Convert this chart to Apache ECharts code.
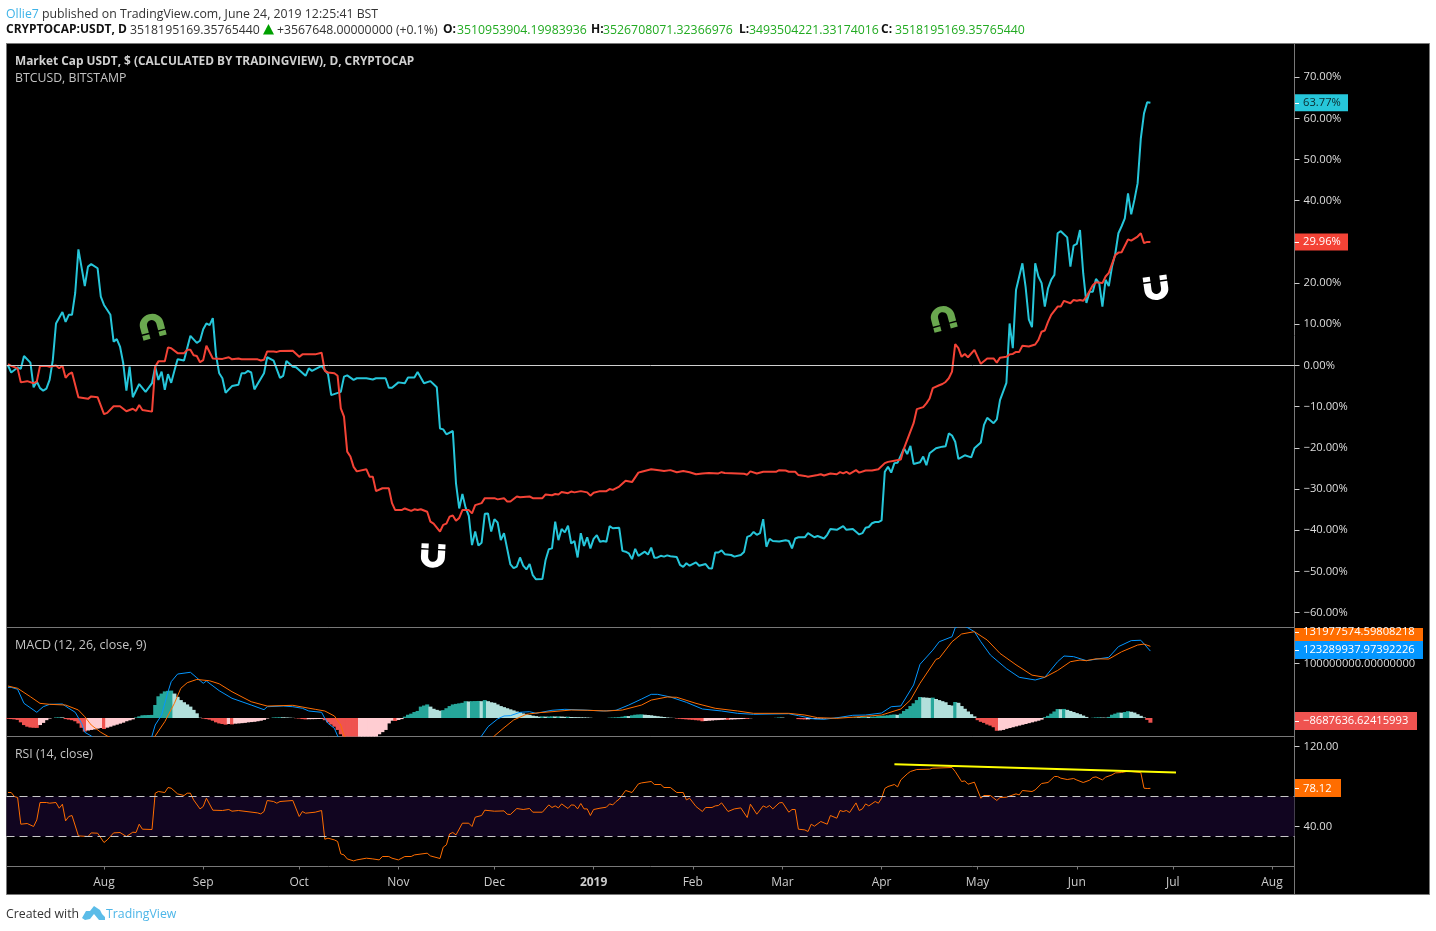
<!DOCTYPE html>
<html>
<head>
<meta charset="utf-8">
<title>USDT market cap vs BTCUSD</title>
<script src="https://cdn.jsdelivr.net/npm/echarts@6/dist/echarts.min.js"></script>
<style>
html,body{margin:0;padding:0;background:#fff;}
#main{width:1436px;height:931px;}
</style>
</head>
<body>
<div id="main"></div>
<script>
// values: [day since 2018-07-01, value]
var usdtPct = [
[1,0],[2,-1.7],[4,-0.5],[5,-0.8],[6,2.3],[8,0.7],[9,-5.3],[10,-3.9],[11,-5.5],[12,-6.1],[13,-5.6],[14,-3.5],[15,1.3],[16,10.2],[18,13],[19,10.6],[20,12.3],[21,12.3],[22,17.6],[23,28.2],[25,19.3],[26,24],[27,24.6],[29,23.6],[30,16.7],[31,14.7],[33,12.3],[34,5.8],[35,6.4],[36,4.6],[37,0.6],[38,-6.1],[39,-0.3],[40,-7.7],[42,-4.5],[44,-6.4],[46,-4.3],[47,-0.3],[48,-3.5],[49,-1.5],[50,-5.9],[51,-2.1],[52,-4.2],[53,-1.3],[54,1.5],[56,1.2],[58,7.2],[60,5.5],[61,6],[62,8.8],[63,10.2],[64,9.8],[65,11.5],[66,2.5],[67,-1.9],[68,-3.1],[69,-6.6],[71,-5],[73,-4.7],[74,-1.9],[75,-1.9],[76,-1.3],[77,-1.7],[78,-5.8],[81,-1.9],[82,2],[84,1.2],[86,-3],[87,-2.5],[88,1.1],[90,-0.3],[91,-0.4],[94,-2.5],[95,-0.7],[96,-1.3],[99,-0.1],[101,-2.1],[102,-7.2],[105,-6.4],[106,-2.7],[107,-2.4],[109,-3.5],[110,-3.1],[113,-3.1],[115,-3.4],[116,-3.1],[119,-3.1],[120,-5.4],[121,-5.4],[123,-4.1],[125,-4.3],[126,-2.9],[128,-2.9],[129,-1.6],[131,-4.3],[133,-3.8],[135,-5.3],[136,-15.3],[137,-15.5],[138,-16.7],[140,-15.9],[141,-28.6],[142,-34.7],[143,-31.2],[144,-34.5],[145,-36.5],[146,-43.6],[147,-40.3],[148,-43.7],[149,-43],[150,-36],[151,-35.9],[152,-40.3],[153,-37.3],[154,-38.1],[155,-42.4],[156,-40.7],[158,-48.3],[159,-49.2],[160,-48.8],[161,-46.6],[162,-48.6],[163,-49.5],[164,-48.2],[165,-50.9],[166,-51.9],[168,-51.8],[169,-47.2],[170,-44.6],[171,-44.4],[172,-37.9],[173,-42.4],[174,-39.7],[175,-40.5],[176,-38.9],[177,-43.2],[178,-42.6],[179,-46.6],[180,-40.7],[181,-43.8],[182,-41.7],[183,-44.4],[184,-42.1],[185,-41.2],[186,-42.8],[187,-42.6],[188,-42.8],[189,-39],[190,-39.5],[192,-39.4],[193,-45],[194,-45.2],[195,-45.6],[196,-47],[197,-44.5],[198,-46.2],[200,-45.2],[201,-45.9],[202,-44.2],[203,-46.7],[204,-46.6],[205,-46.2],[206,-46.4],[207,-46.1],[208,-46.3],[210,-46.5],[211,-48.4],[212,-48.9],[213,-48],[214,-48.6],[216,-47.8],[217,-48.6],[219,-48.2],[220,-49.2],[221,-49.3],[222,-45.4],[223,-45.4],[224,-44.9],[225,-45.8],[227,-46],[228,-46.4],[230,-46],[231,-45.3],[232,-41.6],[233,-41.3],[234,-40.4],[235,-41.1],[236,-40.7],[237,-37.3],[238,-44],[239,-42.1],[240,-42.6],[242,-42.7],[244,-42.4],[245,-42.6],[246,-44.4],[247,-42],[248,-41.7],[250,-41.7],[251,-40.7],[253,-41.7],[254,-41.4],[255,-41.7],[256,-42],[257,-41.1],[258,-39.7],[260,-39.9],[262,-39],[263,-39.9],[265,-39.7],[267,-41],[268,-40.7],[269,-39.4],[270,-39.2],[271,-38.3],[272,-38],[273,-38],[274,-37.6],[275,-25.8],[276,-24.6],[277,-26],[278,-23.7],[279,-23.6],[281,-20.1],[282,-21.5],[283,-19.5],[284,-23.9],[286,-23.5],[287,-22.1],[288,-24.2],[289,-21.3],[291,-20.1],[293,-19.7],[294,-19.6],[295,-16.5],[296,-17],[297,-18.5],[298,-22.7],[300,-21.8],[302,-22.3],[303,-20.1],[305,-18.7],[306,-14.4],[307,-12.7],[309,-14],[310,-13.1],[311,-8.4],[313,-4.2],[314,10.2],[315,4.2],[316,18.3],[318,24.8],[319,19.1],[320,11.2],[321,9.3],[322,24.8],[323,21.6],[324,20],[325,14.3],[326,18.7],[327,20.8],[328,22],[329,32.1],[330,32.6],[332,31.1],[333,24],[334,29.1],[335,29.5],[336,32.9],[337,22.4],[338,15.2],[339,17.9],[340,17.9],[341,21],[342,20],[343,14.3],[344,20.8],[345,19.3],[346,24],[347,27],[348,32.1],[349,33.8],[350,35.7],[351,41.8],[352,36.7],[353,40.2],[354,44.2],[355,55.1],[356,61.2],[357,63.9],[358,63.77]
];
var btcPct = [
[1,0.3],[2,-0.1],[4,-0.7],[5,-4.1],[7,-3.8],[9,-4.3],[10,-3.9],[11,-0.1],[13,-0.1],[14,-0.3],[16,0],[17,-0.7],[18,0],[19,-3],[20,-2.1],[21,-1.7],[23,-7.7],[26,-8.1],[27,-7.5],[29,-7.7],[31,-11.8],[32,-11.5],[34,-9.9],[36,-9.9],[38,-11.1],[40,-10.5],[41,-11],[42,-9.6],[43,-10.8],[46,-11.2],[47,-0.3],[48,1],[50,1],[51,4.4],[52,4.2],[54,3],[56,3],[57,3.8],[58,3.8],[59,2.5],[60,2.3],[61,0.8],[62,1.3],[63,4.8],[65,1.7],[68,1.6],[70,2],[71,1.5],[73,1.7],[74,1.5],[79,1.5],[80,1.2],[81,1.4],[82,3.4],[84,3.4],[85,3.3],[86,3.5],[90,3.6],[92,2.1],[93,2.7],[97,2.7],[99,3.1],[100,-1.3],[101,-1.7],[103,-1.9],[104,-2.5],[105,-10.4],[106,-12.4],[107,-20.9],[108,-22.1],[109,-24.6],[110,-25.7],[113,-25.2],[114,-27],[115,-27],[116,-30.5],[118,-29.8],[120,-29.8],[121,-33.4],[122,-35.1],[124,-35.1],[125,-34.7],[127,-35.3],[128,-34.9],[129,-35.1],[130,-34.9],[132,-35.5],[133,-37.9],[134,-38.4],[136,-40.3],[137,-38.7],[138,-38.4],[139,-36.7],[140,-36.4],[141,-37.7],[142,-37],[143,-35.1],[145,-35.1],[146,-35.9],[147,-33.9],[149,-33.4],[150,-32.2],[153,-32.2],[154,-32.5],[156,-32.2],[157,-33],[158,-33],[160,-31.8],[161,-32],[164,-31.8],[165,-32.2],[168,-32.2],[169,-31.3],[171,-31.5],[172,-31.2],[173,-31.3],[174,-30.7],[176,-31],[177,-30.6],[178,-30.8],[180,-30.5],[182,-30.8],[183,-31.6],[184,-30.9],[186,-30.5],[188,-30.5],[189,-30],[190,-30.2],[192,-29.4],[194,-28],[196,-28.3],[198,-26],[199,-25.8],[202,-25.2],[205,-25.5],[206,-25.6],[208,-25.4],[210,-25.9],[212,-25.6],[214,-25.9],[216,-26.4],[218,-26.2],[220,-26.1],[223,-26.2],[224,-25.9],[225,-26.1],[231,-26.3],[232,-26.5],[233,-25.7],[235,-26.2],[237,-25.8],[241,-25.8],[242,-25.4],[244,-25.5],[245,-25.8],[247,-25.8],[248,-26.6],[250,-26.8],[251,-27],[254,-26.6],[255,-26.4],[256,-26.7],[258,-26.2],[260,-26.4],[261,-25.9],[262,-26.2],[263,-25.8],[264,-26.3],[266,-25.4],[267,-26],[269,-25.5],[271,-25.5],[273,-25.2],[275,-23.7],[276,-23.4],[278,-23.1],[280,-22.8],[281,-20.1],[284,-14],[285,-10.6],[287,-10.1],[288,-9.2],[289,-8],[290,-5.5],[292,-4.8],[293,-4.5],[294,-4],[295,-3.1],[296,-1.5],[297,5.2],[298,4.2],[299,2.1],[300,2.8],[301,2],[303,3.8],[305,0.4],[307,1.7],[309,1.7],[310,0.7],[311,1.9],[313,2.1],[314,2.7],[315,2.8],[316,3.3],[317,3.3],[318,4.8],[320,4.6],[322,5.1],[323,6.2],[324,8.2],[325,8.5],[326,10.6],[327,12.3],[329,14.3],[330,14.3],[331,15.7],[333,15.1],[334,15.9],[335,15.7],[336,15.9],[337,15.7],[338,16.7],[340,19.5],[341,20.2],[343,20],[344,21.6],[345,22.5],[347,26.8],[348,27.4],[349,27.5],[351,30.6],[352,30.3],[354,31.3],[355,32.1],[356,29.7],[357,30],[358,29.96]
];
// macd lines in millions, they run off the pane in places
var macdLine = [
[1,56.5],[2,56.5],[4,52.8],[6,27],[10,10.5],[12,20.8],[14,25.2],[18,25.8],[20,17.9],[22,10.5],[24,-9.8],[25,-26.3],[27,-33.1],[35,-75],[42,-70],[45,-50],[46,-33],[47,-12.9],[49,5.5],[51,48.4],[52,66.9],[54,81],[58,84.2],[60,74.2],[62,63.9],[63,68.1],[67,50.3],[71,36.3],[77,23.9],[81,15.3],[82,20.8],[87,22.1],[90,20.8],[93,17.9],[95,12.9],[99,10.5],[100,-0.6],[101,-9.8],[103,-19],[104,-33.1],[112,-90],[130,-95],[145,-60],[149,-33],[151,-16],[154,-1.8],[156,3.7],[158,4.3],[161,10.5],[164,11.6],[166,8.7],[171,14.2],[175,16],[181,14.7],[187,12.9],[191,14.2],[195,23.9],[199,35],[202,43.6],[204,43.6],[208,38.7],[213,28.9],[218,16.6],[224,12.9],[229,8.6],[234,6.8],[245,7.9],[248,4.3],[253,-1.8],[256,-2.4],[261,1.3],[265,5],[269,5.5],[274,9.2],[277,20.8],[280,22.1],[284,60.8],[286,98.9],[290,125],[292,140.5],[296,149.7],[297,166.3],[299,172],[301,166],[303,159],[305,140.5],[308,116],[313,91],[317,75],[322,70],[325,75],[329,103.7],[331,114.2],[334,113],[338,105.6],[345,111.8],[348,131.4],[352,142.5],[355,143.2],[358,123.29]
];
var macdSignal = [
[1,58.9],[4,54.7],[8,39.2],[11,27],[14,25.2],[19,23.9],[23,14.7],[25,2.4],[27,-12.9],[30,-26.3],[32,-33.1],[38,-50],[44,-55],[47,-33],[50,-6.8],[53,27],[55,54.7],[57,65],[60,71],[64,68.6],[67,63],[71,48.4],[77,30],[82,22],[90,23.4],[97,16],[100,12.9],[103,3.7],[105,-12.9],[106,-33],[115,-80],[135,-85],[150,-50],[153,-33],[156,-17.9],[159,-3.7],[163,6.8],[167,9.8],[171,11.6],[177,14.7],[182,14.2],[188,12.9],[193,14.7],[199,23.9],[202,33],[207,38.7],[210,38.1],[216,27],[222,17.9],[229,12.9],[234,8.6],[245,8.6],[250,5.5],[254,0.6],[260,-0.6],[267,2.4],[274,5.5],[280,16.6],[283,33],[286,63.9],[291,108],[292,110],[296,140.5],[299,154.7],[303,159],[307,143.6],[311,119],[316,98],[321,79],[325,75],[329,87.5],[333,103.7],[336,106.8],[338,105.6],[341,109],[345,108.6],[349,122],[354,134.4],[356,136.2],[358,131.98]
];
// one bar a day from day 1
var macdHist = [
-1.5,-2,-2.5,-3.5,-8,-13,-16,-17.5,-18,-18.2,-13,-9,-4,-1,0,1,1.2,1.1,-2,-3,-4,-6,-10,-18,-25,
-23,-22,-21,-19.6,-18.4,-20.3,-17.8,-16,-14,-12.3,-10.4,-8.6,-6,-4.3,-2.5,
1,3,5,5.3,5.5,5.7,24,40,45,49,50,50.5,45,39,33,29,25,21,15,8.6,0.5,
-1,-2,-3,-5,-8,-10,-11,-12.3,-11,-11.8,-10.5,-10,-9.5,-9,-8,-7.5,-7,-6,-5,-3.5,-1,
0,1,1.2,1.4,1.3,1,0.7,0.3,-0.5,-1,-2,-2.5,-2.2,-2.1,-2,-1.8,-1.5,
-4,-8,-12,-16,-22,-30,-40,-50,-52,-54,-55,-50,-48,-46,-42,-38,-34,-30,-26,-22,-10,-5,-5.5,-3.7,-2,
2.5,6,8,11,13,21,23,25,21,17,15,13.5,14.5,18,22,25,26,27,28,31,30.5,31,31.2,31.4,31,33,
31,29,28,25,22,20,18,16,14,12,10.5,8.5,6.8,5.5,4.3,3.5,2.5,
2.9,2.5,2.7,3,2.8,3,2.6,2.2,2.4,1.8,1.6,1.5,1.3,1.1,0.9,0.5,0,0,0,0,0,
0.6,0.9,1.2,1.6,2.5,3.8,3.5,5,6,6.5,6.7,6,5.5,5,4,3.3,2.5,1.8,1,0.5,0.2,
-1,-1.5,-2,-2.5,-3,-3.4,-4,-4.5,-6,-5.5,-5,-4.5,-4,-3.8,-3.5,-3,-3.4,-2.8,-2.5,-2.2,-2,-1.6,-1.7,-0.5,
0,0,0,0,0,0,0,0.4,1,0.8,0,0,0,0,
-2,-2.3,-2.6,-2.4,-2,-1.6,-1.2,-1,-0.8,-0.5,-0.3,0,
0.3,0.5,0.7,0.8,0.9,1,1.6,1.5,2,2.3,2.2,2.5,2.6,3.5,4,4.5,5,6,6.5,5.8,
8,13,16.5,22,27,33,38.7,38,37.5,37,37.5,35,33,31,29,24,23,29.5,28,22,17,12,7,3,
-4,-7,-9,-12,-14,-17,-23.5,-23,-22,-20,-18.5,-17,-15.5,-14,-12.5,-11,-9.5,-8,-6.5,-5,-3,
1.5,4,8,12,16.5,16.2,16.7,15,13,11,9,7,4.5,2,0,0.5,1,1.2,0.8,0.6,
2,6,8,10,9.8,11,12.5,11.5,10,7,4,1,-3.5,-8.69
];
var rsiValues = [
[1,74],[2,74],[3,70],[4,69],[5,42.3],[7,43],[9,40],[10,46.6],[11,64],[13,64],[14,63.3],[16,64],[17,58.3],[18,62.3],[19,45.6],[20,50],[21,51],[23,30.6],[26,30],[27,33.6],[29,33.3],[31,24],[32,26.6],[34,33.6],[36,34],[38,30],[40,34.3],[41,34],[42,42.3],[43,37.3],[46,37],[47,73.3],[48,75],[50,74],[51,79],[52,78.3],[54,72.6],[56,71],[57,73.3],[58,73.3],[59,66.6],[61,57.6],[62,60],[63,68.3],[65,56.3],[68,56],[70,57],[71,55.3],[73,56],[79,53.6],[80,52.6],[81,55],[82,66],[84,65],[85,63.3],[86,65],[90,66],[92,50],[93,55],[94,53.3],[97,54.3],[99,56],[100,27.3],[101,28.3],[103,26.6],[104,25],[105,12.6],[106,11.6],[107,7.6],[109,5.6],[110,6.6],[113,8.3],[115,7.6],[117,6.6],[118,10],[120,10],[121,8.3],[123,6.6],[125,10],[127,10],[128,11.6],[132,13.3],[133,10.6],[136,8],[137,19.3],[138,21.6],[139,32.6],[140,34],[141,31.6],[143,43.3],[145,43.3],[146,40],[147,49.3],[149,51],[150,56.3],[153,55.3],[156,55.6],[157,52.3],[158,52],[160,58],[162,57],[164,58],[165,54.3],[168,54.3],[170,61.6],[171,59],[172,60.6],[173,58.6],[174,62.6],[176,58],[177,61.6],[178,61.3],[179,57.6],[180,63],[181,57.6],[182,57.6],[183,51],[184,57],[186,58.3],[188,59.3],[189,62.6],[190,61.6],[191,65],[192,67.3],[194,76],[196,74],[198,82.6],[199,83.6],[202,85],[203,82],[205,82],[206,79],[208,79],[210,74],[212,74],[213,66.6],[214,68.3],[216,60],[218,55],[219,59],[221,59],[222,60.6],[223,61],[224,63.6],[226,55],[228,57.6],[230,58.6],[232,49],[233,62.3],[235,52.3],[237,60.6],[238,59],[239,61],[240,57.6],[242,63.6],[243,64],[245,54.3],[246,57],[247,57],[248,37.3],[250,36.6],[251,35],[252,42.3],[253,40.3],[255,45],[257,42.3],[258,51],[260,48.3],[261,56],[262,55],[263,56],[264,54],[266,63.6],[267,56],[268,57.6],[269,62.6],[270,60.6],[272,65],[273,63.3],[274,68.3],[275,78],[276,80],[278,82],[279,79.6],[280,86.6],[282,92.6],[283,95],[285,97],[289,97.3],[290,98.3],[296,99],[297,95],[299,85],[300,85.6],[301,82.3],[303,84.3],[305,68.3],[306,71],[308,71],[310,66],[311,69],[313,69.3],[316,72.6],[317,71.6],[318,76],[321,75],[322,76.6],[324,83],[326,84],[328,90],[329,90],[330,88.3],[332,87],[334,88],[335,86.5],[337,84],[339,86.3],[340,89],[341,89.6],[343,86.6],[344,89.3],[346,91.6],[347,93.6],[349,94],[351,95.3],[355,94],[356,78.3],[357,78],[358,78.12]
];
var rsiTrend = [[278,102.3],[366,94]];
// [day, percent, rotation, colour]
var magnets = [[46,9.6,195,'#6aa84f'],[293.2,11.5,195,'#6aa84f'],[133.8,-46.2,-3,'#ffffff'],[359.8,18.8,8,'#ffffff']];

var pctTicks = [70,60,50,40,30,20,10,0,-10,-20,-30,-40,-50,-60];
var macdTicks = [100];
var rsiTicks = [40,120];
var rsiBand = [30,70];
var monthDays = [31,62,92,123,153,184,215,243,274,304,335,365,396];
var monthLabels = ['Aug','Sep','Oct','Nov','Dec','2019','Feb','Mar','Apr','May','Jun','Jul','Aug'];

var FONT = '"Open Sans", sans-serif';
var AXIS_SIZE = 11.2, HEAD_SIZE = 12.3;
var xMin = 0.53, xMax = 403.03;

var magnetPath = 'path://M0 0H30V20H0Z M70 0H100V20H70Z M0 26H30V55A20 20 0 0 0 70 55V26H100V55A50 45 0 0 1 0 55Z';

function histColor(params){
    var i = params.dataIndex, v = macdHist[i], prev = i>0 ? macdHist[i-1] : 0;
    if(v>=0) return v>prev ? '#26a69a' : '#b2dfdb';
    return v<prev ? '#ef5350' : '#ffcdd2';
}

function xAxisFor(grid,show){
    return {
        type:'value', gridIndex:grid, min:xMin, max:xMax, show:show,
        axisLine:{show:false},
        splitLine:{show:false},
        axisTick:{show:show,customValues:monthDays,length:3,lineStyle:{color:'#787878'}},
        axisLabel:{
            show:show, customValues:monthDays, margin:10, color:'#cccccc', fontFamily:FONT, fontSize:12,
            hideOverlap:false,
            formatter:function(v){
                var lab = monthLabels[monthDays.indexOf(v)];
                return lab==='2019' ? '{b|2019}' : lab;
            },
            rich:{b:{fontWeight:'bold',color:'#cccccc',fontFamily:FONT,fontSize:12}}
        }
    };
}
function yAxisFor(grid,min,max,ticks,fmt){
    return {
        type:'value', gridIndex:grid, position:'right', min:min, max:max, scale:true,
        splitLine:{show:false},
        axisLine:{show:false},
        axisTick:{show:true,customValues:ticks,length:5,lineStyle:{color:'#cfcfcf'}},
        axisLabel:{show:true,customValues:ticks,margin:9,color:'#dedede',fontFamily:FONT,fontSize:AXIS_SIZE,padding:[3,0,0,0],formatter:fmt}
    };
}

function txt(x,y,s,color,weight,size){
    return {type:'text',x:x,y:y,z:100,silent:true,style:{text:s,fill:color,font:(weight||'normal')+' '+(size||HEAD_SIZE)+'px '+FONT,verticalAlign:'middle'}};
}

var chart = echarts.init(document.getElementById('main'));
var option = {
    animation:false,
    backgroundColor:'#ffffff',
    grid:[
        {left:6.5,top:43.5,width:1288,height:584,show:true,borderColor:'#787878',borderWidth:1,backgroundColor:'transparent'},
        {left:6.5,top:627.5,width:1288,height:109,show:true,borderColor:'#787878',borderWidth:1,backgroundColor:'transparent'},
        {left:6.5,top:736.5,width:1288,height:130,show:true,borderColor:'#787878',borderWidth:1,backgroundColor:'transparent'}
    ],
    xAxis:[xAxisFor(0,false),xAxisFor(1,false),xAxisFor(2,true)],
    yAxis:[
        yAxisFor(0,-63.6,78.16,pctTicks,function(v){ return (v<0?'\u2212':'')+Math.abs(v).toFixed(2)+'%'; }),
        yAxisFor(1,-34.07,166.7,macdTicks,function(v){ return (v*1e6).toFixed(8); }),
        yAxisFor(2,0,130,rsiTicks,function(v){ return v.toFixed(2); })
    ],
    series:[
        {
            name:'Market Cap USDT',type:'line',xAxisIndex:0,yAxisIndex:0,data:usdtPct,showSymbol:false,symbol:'none',
            lineStyle:{color:'#26c6da',width:2},
            markLine:{silent:true,symbol:'none',label:{show:false},lineStyle:{color:'#cfcfcf',width:1,type:'solid'},data:[{yAxis:0}]}
        },
        {name:'BTCUSD',type:'line',xAxisIndex:0,yAxisIndex:0,data:btcPct,showSymbol:false,symbol:'none',lineStyle:{color:'#f44336',width:2}},
        {
            name:'magnets',type:'scatter',xAxisIndex:0,yAxisIndex:0,symbol:magnetPath,symbolSize:24,silent:true,z:5,
            data:magnets.map(function(m){ return {value:[m[0],m[1]],symbolRotate:m[2],itemStyle:{color:m[3],opacity:1}}; })
        },
        {name:'Histogram',type:'bar',xAxisIndex:1,yAxisIndex:1,barWidth:4,
            data:macdHist.map(function(v,i){ return [i+1,v]; }),itemStyle:{color:histColor}},
        {name:'MACD',type:'line',xAxisIndex:1,yAxisIndex:1,data:macdLine,showSymbol:false,symbol:'none',lineStyle:{color:'#0496ff',width:1}},
        {name:'Signal',type:'line',xAxisIndex:1,yAxisIndex:1,data:macdSignal,showSymbol:false,symbol:'none',lineStyle:{color:'#ff6d00',width:1}},
        {
            name:'RSI',type:'line',xAxisIndex:2,yAxisIndex:2,data:rsiValues,showSymbol:false,symbol:'none',lineStyle:{color:'#ff6d00',width:1},
            markArea:{silent:true,itemStyle:{color:'#110520'},data:[[{yAxis:rsiBand[0]},{yAxis:rsiBand[1]}]]},
            markLine:{silent:true,symbol:'none',label:{show:false},lineStyle:{color:'#c8c8c8',width:1,type:[8,5]},data:[{yAxis:rsiBand[0]},{yAxis:rsiBand[1]}]}
        },
        {name:'trend',type:'line',xAxisIndex:2,yAxisIndex:2,data:rsiTrend,showSymbol:false,symbol:'none',lineStyle:{color:'#ffff00',width:2},z:6}
    ]
};
chart.setOption(option);

// price tags sit on the last values
function tag(y,w,s,bg,fg,h,top){
    var boxTop = top===undefined ? y-8.5 : top;
    return [
        {type:'rect',z:90,silent:true,shape:{x:1295,y:boxTop,width:w,height:h||17},style:{fill:bg}},
        {type:'rect',z:91,silent:true,shape:{x:1295,y:Math.round(y),width:4,height:1},style:{fill:'#ffffff'}},
        txt(1303,y,s,fg,'normal',AXIS_SIZE)
    ];
}
var usdtY = chart.convertToPixel({yAxisIndex:0},63.77);
var btcY = chart.convertToPixel({yAxisIndex:0},29.96);
var rsiY = chart.convertToPixel({yAxisIndex:2},78.12);

var items = [
    {type:'rect',z:-10,silent:true,shape:{x:6.5,y:43.5,width:1423,height:851},style:{fill:'#000000',stroke:'#787878',lineWidth:1}},
    {type:'line',z:1,silent:true,shape:{x1:1294.5,y1:866,x2:1294.5,y2:894},style:{stroke:'#787878',lineWidth:1}},
    txt(6,14,'Ollie7','#3eb3e8'),
    txt(42,14,'published on TradingView.com, June 24, 2019 12:25:41 BST','#333333'),
    txt(6,30,'CRYPTOCAP:USDT, D','#111111','bold',12),
    txt(130,30,'3518195169.35765440','#333333'),
    {type:'polygon',z:100,silent:true,shape:{points:[[263,34.5],[274,34.5],[268.5,24]]},style:{fill:'#00a000'}},
    txt(277,30,'+3567648.00000000 (+0.1%)','#333333'),
    txt(443,30,'O:','#111111','bold',12),
    txt(457,30,'3510953904.19983936','#22ab22'),
    txt(591,30,'H:','#111111','bold',12),
    txt(603,30,'3526708071.32366976','#22ab22'),
    txt(739,30,'L:','#111111','bold',12),
    txt(749,30,'3493504221.33174016','#22ab22'),
    txt(881,30,'C:','#111111','bold',12),
    txt(895,30,'3518195169.35765440','#22ab22'),
    txt(15,62,'Market Cap USDT, $ (CALCULATED BY TRADINGVIEW), D, CRYPTOCAP','#d0d0d0','bold',11.85),
    txt(15,78,'BTCUSD, BITSTAMP','#c4c4c4'),
    txt(15,645,'MACD (12, 26, close, 9)','#c4c4c4','normal',12.5),
    txt(15,754,'RSI (14, close)','#c4c4c4'),
    txt(6,914,'Created with','#333333'),
    txt(106,914,'TradingView','#4db6e8'),
    {type:'polygon',z:100,silent:true,shape:{points:[[82,918],[86,911],[90,911],[94,906],[100,910],[102,914],[105,917],[105,920],[99,920],[94,914],[90,919],[85,920]]},style:{fill:'#5bbce8'}}
];
items = items.concat(tag(usdtY,53,'63.77%','#26c6da','#0c2a2e'));
items = items.concat(tag(btcY,53,'29.96%','#f44336','#ffffff'));
items = items.concat(tag(631.7,128,'131977574.59808218','#ff6d00','#ffffff',13,628));
items = items.concat(tag(649.7,128,'123289937.97392226','#0496ff','#ffffff',18,641));
items = items.concat(tag(721,122,'\u22128687636.62415993','#ef5350','#ffffff',18,712));
items = items.concat(tag(rsiY,46,'78.12','#ff6d00','#ffffff',18,779));
// orange tag is cut by the pane top
items.push({type:'rect',z:95,silent:true,shape:{x:1295,y:622,width:134,height:5},style:{fill:'#000000'}});
chart.setOption({graphic:{elements:items}});
</script>
</body>
</html>
